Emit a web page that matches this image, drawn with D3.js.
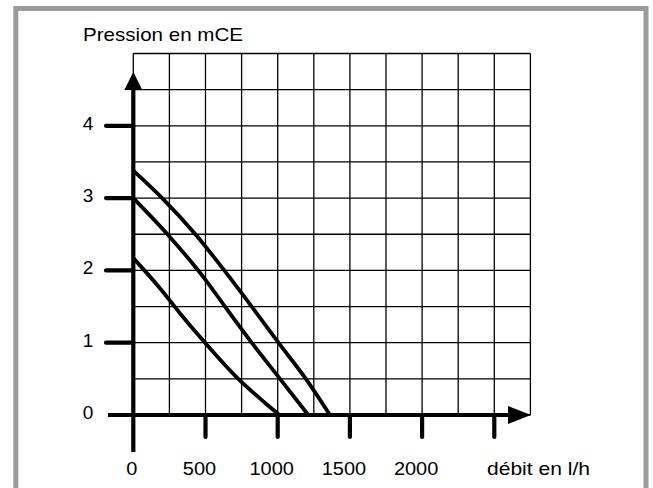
<!DOCTYPE html>
<html>
<head>
<meta charset="utf-8">
<script src="https://cdn.jsdelivr.net/npm/d3@7/dist/d3.min.js"></script>
<style>
  html, body { margin: 0; padding: 0; background: #fff; }
  svg { display: block; }
  text { font-family: "Liberation Sans", Arial, sans-serif; fill: #000; }
</style>
</head>
<body>
<svg id="chart" width="653" height="488"></svg>
<script>
// ---- data ----
const xTickValues = [0, 500, 1000, 1500, 2000, 2500];
const xTickLabels = ["0", "500", "1000", "1500", "2000", ""];
const yTickValues = [0, 1, 2, 3, 4];
const yTickLabels = ["0", "1", "2", "3", "4"];
const yAxisTitle = "Pression en mCE";
const xAxisTitle = "débit en l/h";

const curveHigh = [[0, 3.38], [200, 3.0], [430, 2.5], [630, 2.0], [820, 1.5], [1005, 1.0], [1195, 0.5], [1362, 0]];
const curveMid  = [[0, 3.0], [250, 2.47], [500, 1.87], [635, 1.5], [820, 1.0], [1016, 0.5], [1212, 0]];
const curveLow  = [[0, 2.17], [186, 1.75], [324, 1.405], [497, 1.0], [727, 0.5], [905, 0.18], [1012, 0]];

const xGridMax = 2750, xGridStep = 250;
const yGridMax = 5, yGridStep = 0.5;

// ---- drawing ----
const svg = d3.select("#chart");

// frame
svg.append("path")
  .attr("d", "M15.8,500 L15.8,8.5 L646,8.5 L646,500")
  .attr("fill", "none").attr("stroke", "#9a9b9d").attr("stroke-width", 5);

const x = d3.scaleLinear().domain([0, xGridMax]).range([133.3, 530.4]);
const y = d3.scaleLinear().domain([0, yGridMax]).range([415, 53.5]);

// grid
const g = svg.append("g");
const xs = d3.range(0, xGridMax + 1, xGridStep);
const ys = d3.range(0, yGridMax + 0.001, yGridStep);
g.selectAll("line.v").data(xs).join("line")
  .attr("x1", d => x(d)).attr("x2", d => x(d))
  .attr("y1", y(yGridMax)).attr("y2", y(0))
  .attr("stroke", "#000").attr("stroke-width", 1.3);
g.selectAll("line.h").data(ys).join("line")
  .attr("x1", x(0)).attr("x2", x(xGridMax))
  .attr("y1", d => y(d)).attr("y2", d => y(d))
  .attr("stroke", "#000").attr("stroke-width", 1.3);

// curves
const line = d3.line().x(d => x(d[0])).y(d => y(d[1])).curve(d3.curveMonotoneX);
[curveHigh, curveMid, curveLow].forEach(c => {
  svg.append("path").attr("d", line(c))
    .attr("fill", "none").attr("stroke", "#000").attr("stroke-width", 3.8)
    .attr("stroke-linecap", "butt");
});

// axes
const axW = 4.2;
// y axis line
svg.append("line").attr("x1", x(0)).attr("x2", x(0))
  .attr("y1", 452).attr("y2", 86)
  .attr("stroke", "#000").attr("stroke-width", axW);
svg.append("path")
  .attr("d", `M${x(0)},72 L${x(0) - 9},90 L${x(0) + 9},90 Z`).attr("fill", "#000");
// x axis line
svg.append("line").attr("x1", 108).attr("x2", 512)
  .attr("y1", y(0)).attr("y2", y(0))
  .attr("stroke", "#000").attr("stroke-width", axW);
svg.append("path")
  .attr("d", `M531,${y(0)} L508,${y(0) - 9} L508,${y(0) + 9} Z`).attr("fill", "#000");

// y ticks
svg.selectAll("line.yt").data(yTickValues.filter(d => d > 0)).join("line")
  .attr("x1", 106).attr("x2", x(0))
  .attr("y1", d => y(d)).attr("y2", d => y(d))
  .attr("stroke", "#000").attr("stroke-width", axW).attr("stroke-linecap", "round");
// x ticks
svg.selectAll("line.xt").data(xTickValues.filter(d => d > 0)).join("line")
  .attr("x1", d => x(d)).attr("x2", d => x(d))
  .attr("y1", y(0)).attr("y2", 437)
  .attr("stroke", "#000").attr("stroke-width", axW).attr("stroke-linecap", "round");

// y labels
svg.selectAll("text.yl").data(yTickValues).join("text")
  .attr("x", 88).attr("y", d => y(d) + 3.8)
  .attr("text-anchor", "middle").attr("font-size", 19)
  .text((d, i) => yTickLabels[i]);
// x labels (slightly left of their ticks, as in the reference)
svg.selectAll("text.xl").data(xTickValues).join("text")
  .attr("x", d => x(d) - (d > 0 ? 6 : 1.5)).attr("y", 475)
  .attr("text-anchor", "middle").attr("font-size", 19)
  .attr("transform", d => { const c = x(d) - (d > 0 ? 6 : 1.5); return `translate(${c},0) scale(1.05,1) translate(${-c},0)`; })
  .text((d, i) => xTickLabels[i]);

// titles
svg.append("text").attr("x", 83).attr("y", 41).attr("font-size", 19)
  .attr("textLength", 160).attr("lengthAdjust", "spacingAndGlyphs")
  .text(yAxisTitle);
svg.append("text").attr("x", 487).attr("y", 475).attr("font-size", 19)
  .attr("textLength", 103).attr("lengthAdjust", "spacingAndGlyphs")
  .text(xAxisTitle);
</script>
</body>
</html>
